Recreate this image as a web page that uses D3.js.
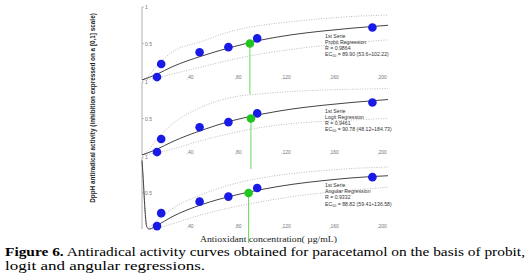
<!DOCTYPE html>
<html>
<head>
<meta charset="utf-8">
<script src="https://cdn.jsdelivr.net/npm/d3@7"></script>
<style>
  html, body { margin: 0; padding: 0; background: #fff; }
  svg { display: block; }
</style>
</head>
<body>
<svg id="fig" width="530" height="277"></svg>
<script>
// observed points (same series in the three panels)
const conc = [12.5, 16, 48, 72, 96, 192];
const inhib = [0.04, 0.22, 0.38, 0.45, 0.57, 0.72];

// per panel texts
const regNames = ["Probit Regression", "Logit Regression", "Angular Regression"];
const rValues = ["0.9864", "0.9461", "0.9332"];
const ec50 = [89.9, 90.78, 88.82];
const ecText = ["89.90", "90.78", "88.82"];
const ecRange = ["53.6÷102.22", "48.12÷184.73", "59.41÷136.58"];

// fitted curves
const fitX = [0, 5, 12.5, 25, 50, 75, 100, 125, 150, 175, 205];
const probitFit = [0, 0.03, 0.08, 0.18, 0.33, 0.45, 0.55, 0.62, 0.67, 0.71, 0.75];
const probitUp = [0, 0.05, 0.2, 0.38, 0.53, 0.67, 0.75, 0.8, 0.84, 0.87, 0.89];
const probitLo = [0, 0.01, 0.03, 0.08, 0.18, 0.28, 0.36, 0.42, 0.47, 0.51, 0.55];

const logitFit = [0, 0.03, 0.08, 0.18, 0.34, 0.47, 0.56, 0.63, 0.68, 0.72, 0.76];
const logitUp = [0, 0.06, 0.22, 0.42, 0.66, 0.79, 0.84, 0.87, 0.89, 0.9, 0.91];
const logitLo = [0, 0.01, 0.03, 0.08, 0.2, 0.3, 0.38, 0.43, 0.46, 0.48, 0.5];

const angX = [0, 1, 2, 3, 4, 6, 12.5, 25, 50, 75, 100, 125, 150, 175, 205];
const angFit = [0.95, 0.7, 0.4, 0.15, 0.03, 0.0, 0.05, 0.17, 0.34, 0.46, 0.55, 0.62, 0.67, 0.71, 0.74];
const angUp = [0.95, 0.7, 0.4, 0.16, 0.05, 0.03, 0.12, 0.28, 0.48, 0.62, 0.71, 0.77, 0.81, 0.84, 0.86];
const angLo = [0.95, 0.7, 0.4, 0.14, 0.02, 0.0, 0.01, 0.07, 0.2, 0.3, 0.38, 0.45, 0.5, 0.54, 0.58];

const xTicks = [40, 80, 120, 160, 200];
const xTickText = [",40", ",80", ",120", ",160", ",200"];

const panels = [
  { top: 7, bot: 80, cx: fitX, fit: probitFit, up: probitUp, lo: probitLo },
  { top: 82, bot: 155, cx: fitX, fit: logitFit, up: logitUp, lo: logitLo },
  { top: 157, bot: 229, cx: angX, fit: angFit, up: angUp, lo: angLo },
];

const svg = d3.select("#fig");
const FONT = "'Liberation Sans', Arial, sans-serif";
const SERIF = "'Liberation Serif', 'Times New Roman', serif";
const x = d3.scaleLinear().domain([0, 200]).range([142, 382]);

panels.forEach((p, i) => {
  const y = d3.scaleLinear().domain([0, 1]).range([p.bot, p.top]);
  const g = svg.append("g");

  // y axis
  g.append("line").attr("x1", x(0)).attr("x2", x(0))
    .attr("y1", y(1)).attr("y2", y(0))
    .attr("stroke", "#999").attr("stroke-width", 0.8);
  [1, 0.5].forEach(v => {
    g.append("line").attr("x1", x(0)).attr("x2", x(0) + 2)
      .attr("y1", y(v)).attr("y2", y(v)).attr("stroke", "#999").attr("stroke-width", 0.6);
    g.append("text").attr("x", x(0) + 3).attr("y", y(v) + 2)
      .attr("style", `font:5px ${FONT};fill:#777`).text(v === 1 ? "1" : "0.5");
  });
  xTicks.forEach((t, k) => {
    g.append("text").attr("x", x(t)).attr("y", y(0) - 1)
      .attr("text-anchor", "middle")
      .attr("style", `font:5px ${FONT};fill:#777`).text(xTickText[k]);
  });

  const line = d3.line().x(d => x(d[0])).y(d => y(d[1])).curve(d3.curveMonotoneX);
  const zip = arr => p.cx.map((c, k) => [c, arr[k]]);

  g.append("path").attr("d", line(zip(p.up))).attr("fill", "none")
    .attr("stroke", "#aaa").attr("stroke-width", 0.8).attr("stroke-dasharray", "1 1.5");
  g.append("path").attr("d", line(zip(p.lo))).attr("fill", "none")
    .attr("stroke", "#aaa").attr("stroke-width", 0.8).attr("stroke-dasharray", "1 1.5");
  g.append("path").attr("d", line(zip(p.fit))).attr("fill", "none")
    .attr("stroke", "#444").attr("stroke-width", 1);

  // EC50 marker
  g.append("line").attr("x1", x(ec50[i])).attr("x2", x(ec50[i]))
    .attr("y1", y(0.5)).attr("y2", y(0) + 14)
    .attr("stroke", "#66dd55").attr("stroke-width", 1);

  g.selectAll("circle.pt").data(conc).join("circle")
    .attr("cx", d => x(d)).attr("cy", (d, k) => y(inhib[k])).attr("r", 4.3)
    .attr("fill", "#1a1ae6");
  g.append("circle").attr("cx", x(ec50[i])).attr("cy", y(0.5)).attr("r", 4.3)
    .attr("fill", "#22c41e");

  // legend
  const lx = 325, ly = y(0.5) - 6;
  const st = `font:5.2px ${FONT};fill:#333`;
  g.append("text").attr("x", lx).attr("y", ly).attr("style", st).text("1st Serie");
  g.append("text").attr("x", lx).attr("y", ly + 6).attr("style", st).text(regNames[i]);
  g.append("text").attr("x", lx).attr("y", ly + 12).attr("style", st).text(`R = ${rValues[i]}`);
  const ec = g.append("text").attr("x", lx).attr("y", ly + 18.5).attr("style", st);
  ec.append("tspan").text("EC");
  ec.append("tspan").attr("dy", 1.2).attr("style", "font-size:3.6px").text("50");
  ec.append("tspan").attr("dy", -1.2).text(` = ${ecText[i]} (${ecRange[i]})`);
});

// axis titles: condensed glyphs, scaled to the span seen in the figure
const yt = svg.append("text")
  .attr("text-anchor", "middle")
  .attr("style", `font:bold 6px ${FONT};fill:#222`)
  .text("DppH antiradical activity (inhibition expressed on a [0,1] scale)");
const ytLen = yt.node().getComputedTextLength();
yt.attr("transform", `translate(95,108) rotate(-90) scale(${190 / ytLen},1.3)`);

svg.append("text")
  .attr("x", 200).attr("y", 241.5)
  .attr("textLength", 137).attr("lengthAdjust", "spacingAndGlyphs")
  .attr("style", `font:8px ${SERIF};fill:#222`)
  .text("Antioxidant concentration( µg/mL)");

// caption (figure is horizontally stretched in the source)
const cap = svg.append("text").attr("x", 5).attr("y", 256)
  .attr("textLength", 520).attr("lengthAdjust", "spacingAndGlyphs")
  .attr("style", `font:13px ${SERIF};fill:#000`);
cap.append("tspan").attr("font-weight", "bold").text("Figure 6.");
cap.append("tspan").text(" Antiradical activity curves obtained for paracetamol on the basis of probit,");
svg.append("text").attr("x", 5).attr("y", 270)
  .attr("textLength", 200).attr("lengthAdjust", "spacingAndGlyphs")
  .attr("style", `font:13px ${SERIF};fill:#000`)
  .text("logit and angular regressions.");
</script>
</body>
</html>
